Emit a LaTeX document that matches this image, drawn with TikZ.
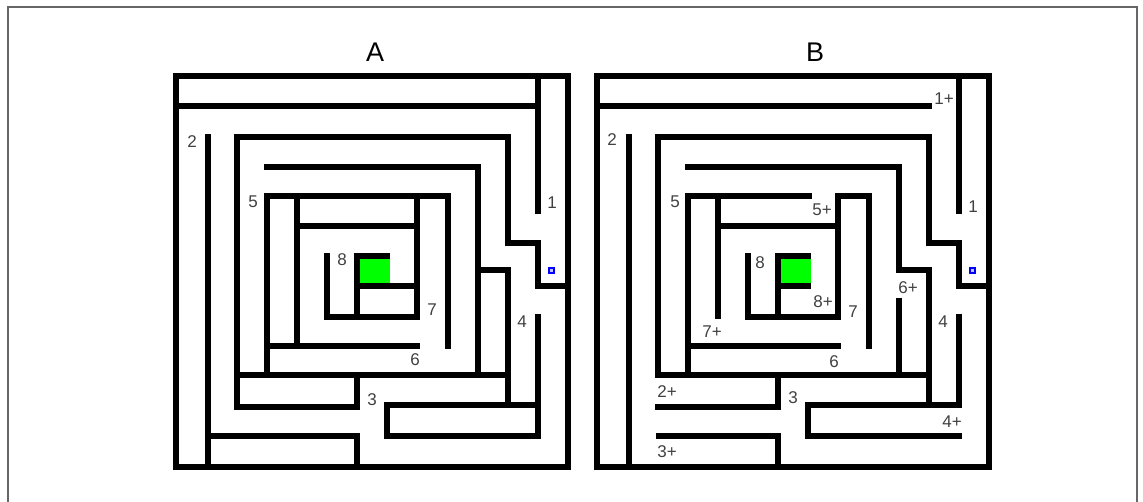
\documentclass[tikz,border=0pt]{standalone}
\usepackage{fontspec}
\setmainfont{Liberation Sans}
\begin{document}
\begin{tikzpicture}[x=1pt,y=-1pt,
  wall/.style={line width=6.2pt,line cap=rect,line join=miter},
  lab/.style={font=\fontsize{17}{17}\selectfont, text=black!75, inner sep=0pt},
  ttl/.style={font=\fontsize{27}{27}\selectfont, inner sep=0pt},
  goal/.style={fill=green},
  start/.style={draw=blue, fill=blue!25, line width=1.2pt}]
\useasboundingbox (0,0) rectangle (1143,501);
\draw[black!60, line width=1.2pt] (8,7) rectangle (1137,504);

\node[ttl] (tA) at (375,52) {A};
\node[ttl] (tB) at (815,52) {B};

% ---------------- Maze A ----------------
\begin{scope}
\fill[goal] (360,259) rectangle (390,283);
\draw[wall] (176,76) rectangle (568,467);
\draw[wall] (176,106) -- (538,106);
\draw[wall] (538,76) -- (538,211);
\draw[wall] (208,137) -- (208,467);
\draw[wall] (237,407) -- (237,137) -- (508,137) -- (508,243) -- (538,243) -- (538,286) -- (568,286);
\draw[wall] (237,375) -- (508,375);
\draw[wall] (237,407) -- (357,407) -- (357,375);
\draw[wall] (267,167) -- (478,167) -- (478,375);
\draw[wall] (478,270) -- (508,270) -- (508,405);
\draw[wall] (267,375) -- (267,196) -- (448,196) -- (448,346);
\draw[wall] (297,196) -- (297,346);
\draw[wall] (267,346) -- (417,346);
\draw[wall] (297,226) -- (417,226);
\draw[wall] (417,196) -- (417,317) -- (327,317) -- (327,256);
\draw[wall] (357,317) -- (357,256) -- (387,256);
\draw[wall] (357,286) -- (417,286);
\draw[wall] (208,436) -- (357,436) -- (357,467);
\draw[wall] (538,317) -- (538,436) -- (387,436) -- (387,405) -- (538,405);
\draw[start] (549,268) rectangle (554,273);
\end{scope}

% ---------------- Maze B ----------------
\begin{scope}[xshift=421pt]
\fill[goal] (360,259) rectangle (390,283);
\draw[wall] (176,76) rectangle (568,467);
\draw[wall] (176,106) -- (508,106);
\draw[wall] (538,76) -- (538,211);
\draw[wall] (208,137) -- (208,467);
\draw[wall] (237,375) -- (237,137) -- (508,137) -- (508,243) -- (538,243) -- (538,286) -- (568,286);
\draw[wall] (237,375) -- (508,375);
\draw[wall] (237,407) -- (357,407) -- (357,375);
\draw[wall] (267,167) -- (478,167) -- (478,270) -- (508,270) -- (508,405);
\draw[wall] (478,301) -- (478,375);
\draw[wall] (267,375) -- (267,196) -- (388,196);
\draw[wall] (417,317) -- (417,196) -- (448,196) -- (448,346);
\draw[wall] (297,196) -- (297,316);
\draw[wall] (267,346) -- (417,346);
\draw[wall] (297,226) -- (417,226);
\draw[wall] (417,317) -- (327,317) -- (327,256);
\draw[wall] (357,317) -- (357,256) -- (387,256);
\draw[wall] (357,286) -- (387,286);
\draw[wall] (238,436) -- (357,436) -- (357,467);
\draw[wall] (538,317) -- (538,405) -- (387,405) -- (387,436) -- (538,436);
\draw[start] (549,268) rectangle (554,273);
\end{scope}

% ---------------- Labels A ----------------
\node[lab] (a1) at (552,203) {1};
\node[lab] (a2) at (192,142) {2};
\node[lab] (a3) at (372,400) {3};
\node[lab] (a4) at (522,322) {4};
\node[lab] (a5) at (253,202) {5};
\node[lab] (a6) at (415,360) {6};
\node[lab] (a7) at (432,310) {7};
\node[lab] (a8) at (342,260) {8};

% ---------------- Labels B ----------------
\node[lab] (b1p) at (944,99) {1+};
\node[lab] (b1) at (973,207) {1};
\node[lab] (b2) at (612,140) {2};
\node[lab] (b5) at (675,202) {5};
\node[lab] (b5p) at (822,210) {5+};
\node[lab] (b8) at (760,263) {8};
\node[lab] (b8p) at (823,302) {8+};
\node[lab] (b7) at (853,312) {7};
\node[lab] (b7p) at (712,332) {7+};
\node[lab] (b6p) at (908,288) {6+};
\node[lab] (b4) at (943,322) {4};
\node[lab] (b6) at (834,362) {6};
\node[lab] (b2p) at (667,392) {2+};
\node[lab] (b3) at (793,398) {3};
\node[lab] (b4p) at (952,422) {4+};
\node[lab] (b3p) at (667,452) {3+};
\end{tikzpicture}
\end{document}
